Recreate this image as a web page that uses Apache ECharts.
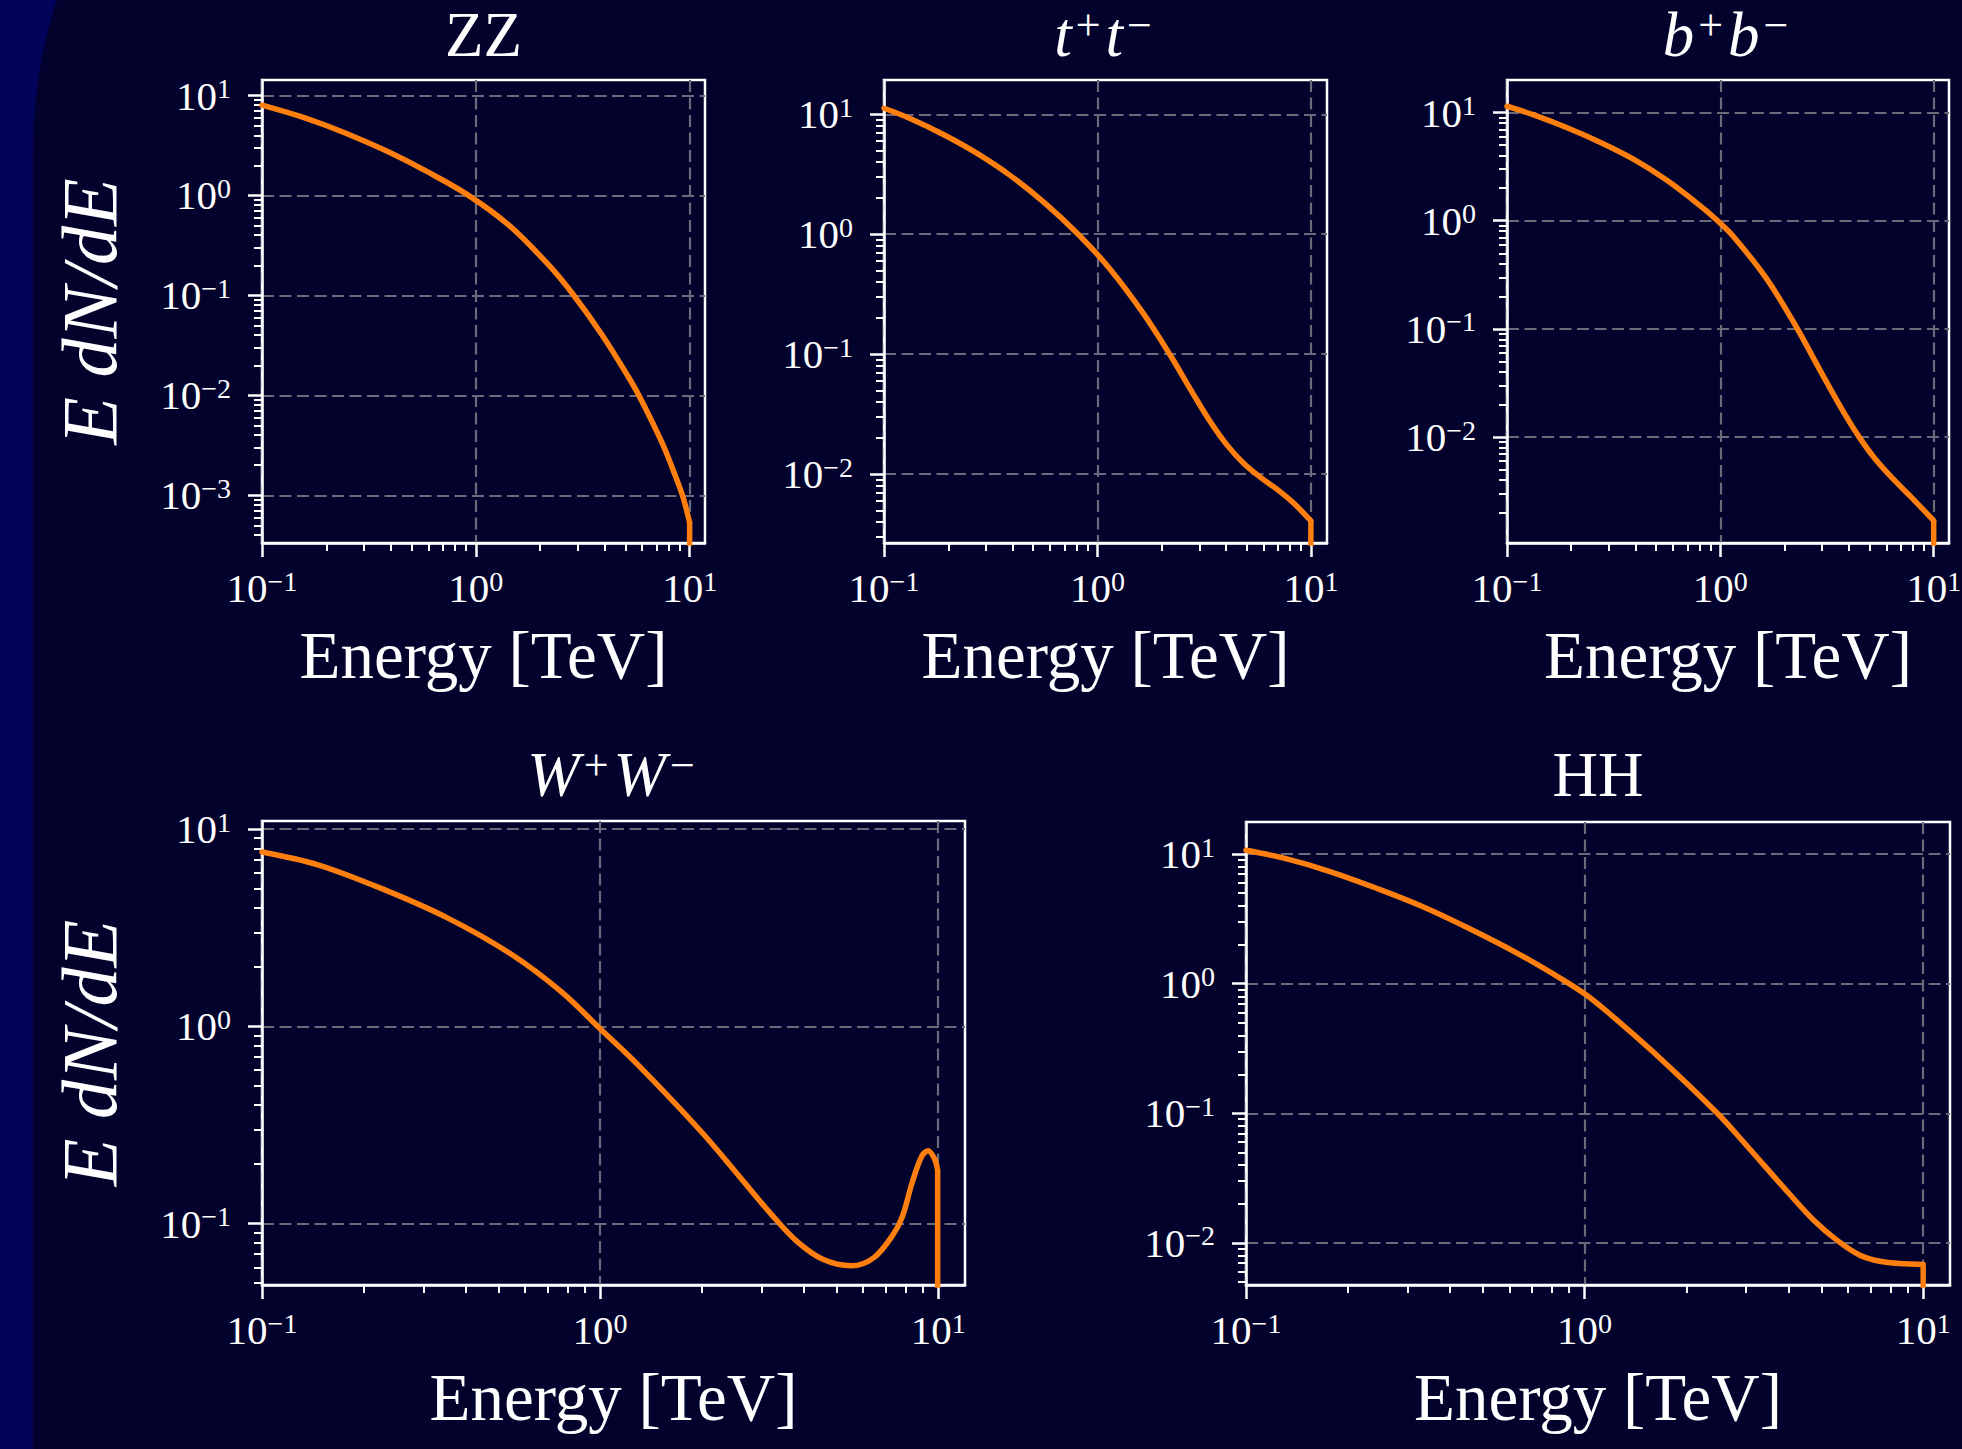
<!DOCTYPE html>
<html>
<head>
<meta charset="utf-8">
<script src="https://cdn.jsdelivr.net/npm/echarts@6/dist/echarts.min.js"></script>
<style>
html,body{margin:0;padding:0;background:#03035a;}
#c{width:1962px;height:1449px;}
</style>
</head>
<body>
<div id="c"></div>
<script>
// ---------------- data ----------------
const panelTitles = ['ZZ', '{i|t}{s|+}{i|t}{s|−}', '{i|b}{s|+}{i|b}{s|−}', '{i|W}{s|+}{i|W}{s|−}', 'HH'];

const zzE = [0.1, 0.1585, 0.2484, 0.3896, 0.6108, 0.924, 1.423, 2.191, 2.870, 3.896, 5.012, 5.786, 7.446, 8.599, 9.240, 9.578, 10];
const zzV = [8.01, 5.975, 4.176, 2.731, 1.671, 1.003, 0.507, 0.2017, 0.1003, 0.04022, 0.01707, 0.01003, 0.003317, 0.001539, 0.001011, 0.000773, 0.000533];

const ttE = [0.1, 0.1324, 0.1897, 0.2719, 0.3896, 0.5583, 0.8144, 1.1466, 1.643, 2.191, 2.818, 3.374, 4.040, 4.835, 5.786, 6.928, 8.294, 10];
const ttV = [11.22, 9.218, 6.781, 4.739, 3.096, 1.859, 0.9952, 0.5113, 0.2179, 0.09848, 0.04629, 0.02748, 0.01756, 0.01235, 0.009453, 0.007509, 0.005749, 0.004076];

const bbE = [0.1, 0.1334, 0.1913, 0.2744, 0.3933, 0.5639, 0.8085, 0.9681, 1.159, 1.662, 2.299, 2.958, 3.807, 4.477, 5.265, 6.306, 7.828, 10];
const bbV = [11.44, 9.522, 7.244, 5.293, 3.688, 2.352, 1.365, 1.003, 0.7047, 0.2844, 0.09986, 0.04026, 0.01666, 0.009993, 0.006438, 0.004305, 0.002799, 0.001691];

const wwE = [0.1, 0.147, 0.227, 0.351, 0.542, 0.767, 1.0, 1.292, 1.995, 2.589, 3.232, 3.828, 4.555, 5.539, 6.44, 7.34, 7.84, 8.37, 8.93, 9.33, 9.75, 9.96];
const wwV = [7.66, 6.58, 4.98, 3.57, 2.34, 1.50, 0.973, 0.6394, 0.2913, 0.1723, 0.1098, 0.0810, 0.0659, 0.0611, 0.067, 0.0875, 0.109, 0.161, 0.219, 0.234, 0.213, 0.186];

const hhE = [0.1, 0.1303, 0.178, 0.244, 0.333, 0.456, 0.622, 0.851, 1.0, 1.164, 1.592, 2.466, 2.972, 4.06, 4.75, 5.56, 6.50, 7.60, 8.87, 10];
const hhV = [10.7, 9.26, 7.31, 5.43, 3.93, 2.67, 1.762, 1.096, 0.836, 0.61, 0.298, 0.1, 0.0585, 0.0233, 0.01496, 0.0105, 0.00804, 0.00714, 0.00689, 0.00681];

// spectrum is zero beyond the cut-off (shown as a drop to the axis floor)
const cutoffValue = 1e-9;

// axis ranges
const xMin = [0.1, 0.1, 0.1, 0.1, 0.1];
const xMax = [11.8, 11.9, 11.8, 12.0, 12.0];
const yMin = [3.33e-4, 2.67e-3, 1.05e-3, 0.0488, 4.73e-3];
const yMax = [14.3, 19.3, 20.0, 11.0, 17.7];

// tick labels
const xTicks = [0.1, 1, 10];
const yTicksZZ = [1e-3, 1e-2, 1e-1, 1, 10];
const yTicksTT = [1e-2, 1e-1, 1, 10];
const yTicksBB = [1e-2, 1e-1, 1, 10];
const yTicksWW = [1e-1, 1, 10];
const yTicksHH = [1e-2, 1e-1, 1, 10];

const xName = 'Energy [TeV]';
const yName = 'E dN/dE';

// ---------------- layout ----------------
const energies = [zzE, ttE, bbE, wwE, hhE];
const values = [zzV, ttV, bbV, wwV, hhV];
const yTicks = [yTicksZZ, yTicksTT, yTicksBB, yTicksWW, yTicksHH];
const grids = [
  {left: 262, top: 80, width: 443, height: 463},
  {left: 884, top: 80, width: 443, height: 463},
  {left: 1507, top: 80, width: 442, height: 463},
  {left: 262, top: 821, width: 703, height: 464},
  {left: 1246, top: 822, width: 704, height: 463}
];
const titlePos = [[483.5, 35], [1105.5, 35], [1728, 35], [613.5, 775], [1598, 775]];
const showYName = [true, false, false, true, false];

const FONT = "'Liberation Serif', 'DejaVu Serif', serif";
const WHITE = '#ffffff';
const ORANGE = '#ff7f0e';
const GRIDC = '#6a6a7a';

function expLabel(v) {
  const e = Math.round(Math.log10(v));
  return '{b|10}{s|' + (e < 0 ? '\u2212' + (-e) : String(e)) + '}';
}
const tickRich = {
  b: {color: WHITE, fontSize: 41, fontFamily: FONT, lineHeight: 42},
  s: {color: WHITE, fontSize: 28, fontFamily: FONT, lineHeight: 25, verticalAlign: 'top'}
};

const option = {
  backgroundColor: '#03035a',
  animation: false,
  grid: [], xAxis: [], yAxis: [], series: [],
  graphic: {elements: []}
};

option.graphic.elements.push({
  type: 'rect', silent: true, z: -100,
  shape: {x: 33, y: -336, width: 2600, height: 2600, r: 486},
  style: {fill: '#02022c'}
});

for (let i = 0; i < 5; i++) {
  option.grid.push(Object.assign({
    show: true, borderColor: WHITE, borderWidth: 2.5, backgroundColor: 'transparent',
    containLabel: false, outerBoundsMode: 'none'
  }, grids[i]));

  option.xAxis.push({
    type: 'log', logBase: 10, gridIndex: i, min: xMin[i], max: xMax[i],
    axisLine: {show: true, onZero: false, lineStyle: {color: WHITE, width: 2.5}},
    axisTick: {show: true, length: 14, lineStyle: {color: WHITE, width: 2.5}, customValues: xTicks},
    minorTick: {show: true, splitNumber: 9, length: 8, lineStyle: {color: WHITE, width: 2}},
    axisLabel: {show: true, customValues: xTicks, margin: 24, formatter: expLabel, rich: tickRich, color: WHITE},
    splitLine: {show: true, lineStyle: {color: GRIDC, width: 2.2, type: [12, 5.5]}},
    minorSplitLine: {show: false},
    name: xName, nameLocation: 'middle', nameGap: 78,
    nameTextStyle: {color: WHITE, fontSize: 67, fontFamily: FONT}
  });

  option.yAxis.push({
    type: 'log', logBase: 10, gridIndex: i, min: yMin[i], max: yMax[i],
    axisLine: {show: true, onZero: false, lineStyle: {color: WHITE, width: 2.5}},
    axisTick: {show: true, length: 14, lineStyle: {color: WHITE, width: 2.5}, customValues: yTicks[i]},
    minorTick: {show: true, splitNumber: 9, length: 8, lineStyle: {color: WHITE, width: 2}},
    axisLabel: {show: true, customValues: yTicks[i], margin: 31, formatter: expLabel, rich: tickRich, color: WHITE},
    splitLine: {show: true, lineStyle: {color: GRIDC, width: 2.2, type: [12, 5.5]}},
    minorSplitLine: {show: false},
    name: showYName[i] ? yName : '', nameLocation: 'middle', nameGap: 134, nameRotate: 90,
    nameTextStyle: {color: WHITE, fontSize: 78, fontFamily: FONT, fontStyle: 'italic'}
  });

  const E = energies[i], V = values[i];
  option.series.push({
    type: 'line', xAxisIndex: i, yAxisIndex: i,
    data: E.map((e, k) => [e, V[k]]),
    smooth: 0.35, symbol: 'none', clip: true,
    lineStyle: {color: ORANGE, width: 5.5, cap: 'round', join: 'round'}
  });
  const last = E.length - 1;
  option.series.push({
    type: 'line', xAxisIndex: i, yAxisIndex: i,
    data: [[E[last], V[last]], [E[last], cutoffValue]],
    symbol: 'none', clip: true,
    lineStyle: {color: ORANGE, width: 5.5, cap: 'butt', join: 'round'}
  });

  option.graphic.elements.push({
    type: 'text', x: titlePos[i][0], y: titlePos[i][1], z: 100, silent: true,
    style: {
      text: panelTitles[i], fill: WHITE, fontSize: 63, fontFamily: FONT,
      align: 'center', verticalAlign: 'middle',
      rich: {
        i: {fill: WHITE, fontSize: 63, fontFamily: FONT, fontStyle: 'italic', lineHeight: 63},
        s: {fill: WHITE, fontSize: 44, fontFamily: FONT, lineHeight: 44, verticalAlign: 'top', padding: [0, 5, 0, 4]}
      }
    }
  });
}

const chart = echarts.init(document.getElementById('c'), null, {renderer: 'svg'});
chart.setOption(option);
</script>
</body>
</html>
